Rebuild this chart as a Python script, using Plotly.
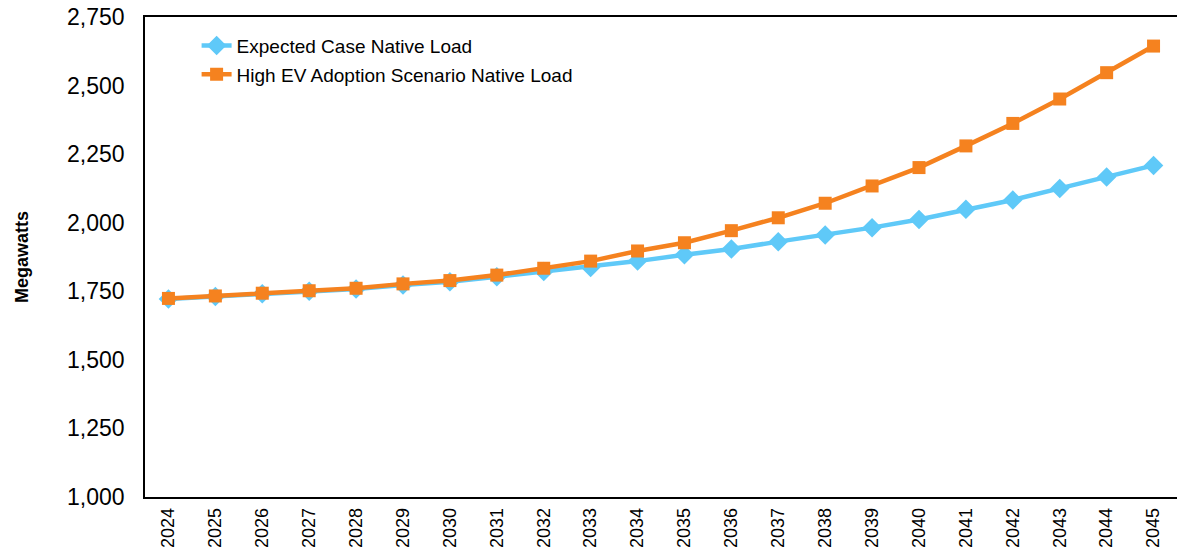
import plotly.graph_objects as go

years = [str(y) for y in range(2024, 2046)]
expected = [1722, 1731, 1741, 1750, 1758, 1773, 1785, 1803, 1822, 1837, 1860,
            1883, 1904, 1931, 1955, 1982, 2012, 2049, 2083, 2125, 2167, 2209]
high_ev = [1724, 1733, 1743, 1752, 1761, 1777, 1789, 1809, 1834, 1860, 1897,
           1927, 1971, 2018, 2071, 2134, 2201, 2280, 2362, 2451, 2547, 2644]
y_ticks = [1000, 1250, 1500, 1750, 2000, 2250, 2500, 2750]
y_tick_text = ["1,000", "1,250", "1,500", "1,750", "2,000", "2,250", "2,500", "2,750"]

BLUE = "#5FC9F8"
ORANGE = "#F5821F"
FONT = "Liberation Sans, Arial, sans-serif"

fig = go.Figure()
fig.add_trace(go.Scatter(
    x=years, y=expected, name="Expected Case Native Load", mode="lines+markers",
    line=dict(color=BLUE, width=4.5), marker=dict(symbol="diamond", size=15, color=BLUE),
    legendgroup="a"))
fig.add_trace(go.Scatter(
    x=years, y=high_ev, name="High EV Adoption Scenario Native Load", mode="lines+markers",
    line=dict(color=ORANGE, width=4.5), marker=dict(symbol="square", size=13, color=ORANGE),
    legendgroup="b"))

fig.update_layout(
    width=1177, height=556,
    margin=dict(l=145, r=0, t=17, b=59, autoexpand=False),
    paper_bgcolor="white", plot_bgcolor="white",
    font=dict(family=FONT, color="#000000"),
    showlegend=True,
    legend=dict(x=0.05, y=0.98, xanchor="left", yanchor="top",
                font=dict(size=19, family=FONT), bgcolor="rgba(0,0,0,0)",
                traceorder="grouped", tracegroupgap=1),
    xaxis=dict(type="category", range=[-0.5, len(years) - 0.5], showgrid=False,
               showline=True, linecolor="black", linewidth=1.5, mirror=True,
               ticks="", tickangle=-90, ticklabelstandoff=2,
               tickfont=dict(size=18, family=FONT)),
    yaxis=dict(range=[1000, 2750], tickvals=y_ticks, ticktext=y_tick_text,
               showgrid=False, showline=True, linecolor="black", linewidth=1.5,
               mirror=True, ticks="", zeroline=False, ticklabelstandoff=14,
               tickfont=dict(size=23, family=FONT),
               title=dict(text="<b>Megawatts</b>", font=dict(size=18, family=FONT),
                          standoff=34)),
)

fig.write_html(
    "out.html",
    config={"displayModeBar": False},
    post_script="document.body.style.margin='0';document.body.style.overflow='hidden';",
)
